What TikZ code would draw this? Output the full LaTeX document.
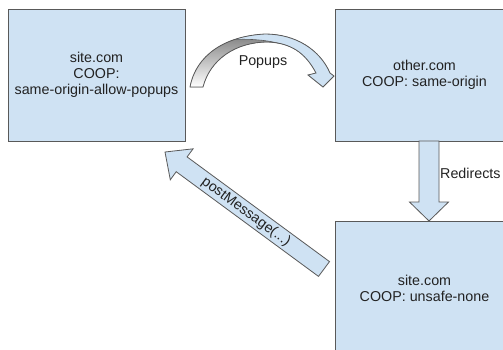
\documentclass[tikz,border=0pt]{standalone}
\usepackage{fontspec}
\setmainfont{Liberation Sans}
\definecolor{boxfill}{HTML}{CFE2F3}
\definecolor{edge}{HTML}{595959}
\definecolor{shade}{HTML}{A4B5C6}
\definecolor{ink}{HTML}{222222}
\tikzset{
  pagebox/.style={draw=edge, fill=boxfill, line width=0.8pt, text=ink,
    align=center, inner sep=0pt, font=\fontsize{14.3}{16}\selectfont},
  blockarrow/.style={draw=edge, fill=boxfill, line width=0.8pt, line join=miter},
  lbl/.style={text=ink, inner sep=0pt, font=\fontsize{14.3}{16}\selectfont}
}
\begin{document}
\begin{tikzpicture}[x=1pt,y=-1pt]
\useasboundingbox (0,0) rectangle (503,349);
\clip (0,0) rectangle (503,349);
\fill[white] (0,0) rectangle (503,349);

% the three browsing contexts
\node[pagebox, minimum width=177pt, minimum height=132pt] (opener) at (96.5,75)
  {site.com\\COOP:\\same-origin-allow-popups};
\node[pagebox, minimum width=179pt, minimum height=132pt] (popup) at (424.5,75)
  {other.com\\COOP: same-origin};
\node[pagebox, minimum width=179pt, minimum height=135pt] (redirected) at (424.5,288.5)
  {site.com\\COOP: unsafe-none};

% curved "Popups" arrow: shaded back, light front
\def\popupshape{(190,87) .. controls (196,55) and (225,36) .. (265,34)
  .. controls (296,34) and (320,50) .. (330,73) -- (334,76) -- (323,87)
  -- (308,75) -- (316,73) .. controls (305,52) and (290,43) .. (268,42)
  .. controls (235,42) and (210,60) .. (203,87) -- cycle}
\fill[shade] \popupshape;
\begin{scope}
  \clip \popupshape;
  \fill[boxfill] (226,40) .. controls (250,38) and (275,40) .. (292,48)
    -- (300,90) -- (350,95) -- (350,15) -- (226,15) -- cycle;
  \draw[edge, line width=0.6pt] (226,40) .. controls (250,38) and (275,40) .. (292,48);
\end{scope}
\draw[edge, line width=0.8pt, line join=miter] \popupshape;
\node[lbl] (popupslbl) at (263,62) {Popups};

% "Redirects" block arrow
\draw[blockarrow] (419,141) -- (439,141) -- (439,202) -- (448.5,202)
  -- (429,221) -- (409.5,202) -- (419,202) -- cycle;
\node[lbl, anchor=west] (redirlbl) at (440,173) {Redirects};

% diagonal "postMessage" block arrow
\draw[blockarrow] (329.5,261.6) -- (187.1,156.9) -- (193.1,148.8) -- (165,152)
  -- (170.3,179.8) -- (176.2,171.7) -- (318.5,276.4) -- cycle;
\node[lbl, rotate=-36.3] (pmlbl) at (246,212) {postMessage(...)};
\end{tikzpicture}
\end{document}
